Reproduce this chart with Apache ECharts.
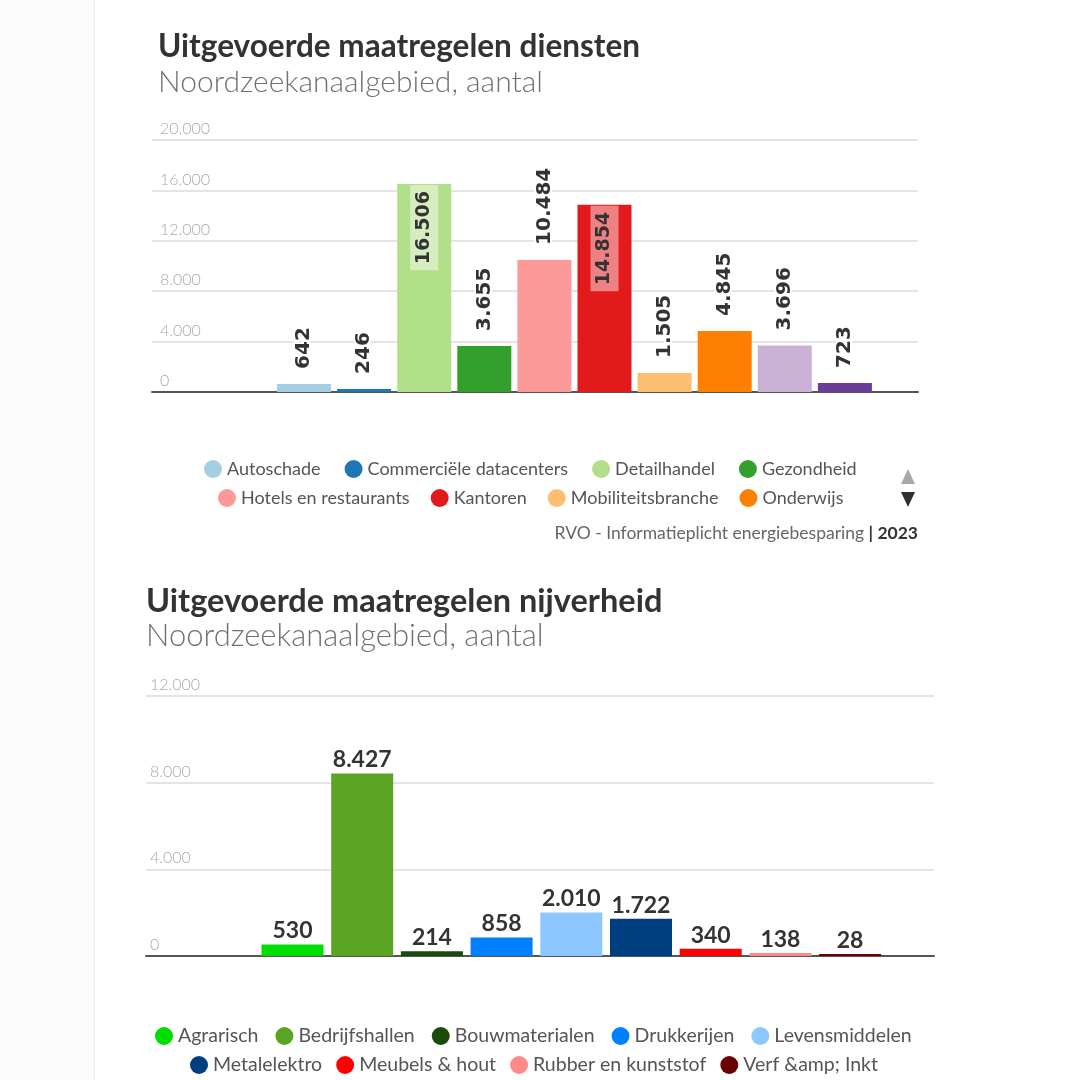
<!DOCTYPE html>
<html>
<head>
<meta charset="utf-8">
<script src="https://cdn.jsdelivr.net/npm/echarts@6/dist/echarts.min.js"></script>
<style>
html,body{margin:0;padding:0;background:#fff;}
#chart{width:1080px;height:1080px;}
</style>
</head>
<body>
<div id="chart"></div>
<script>
// ---- Data: chart 1 (diensten) ----
const dienstenCategories = ['Autoschade', 'Commerciële datacenters', 'Detailhandel', 'Gezondheid', 'Hotels en restaurants', 'Kantoren', 'Mobiliteitsbranche', 'Onderwijs', 'Sport en recreatie', 'Zorg'];
const dienstenValues = [642, 246, 16506, 3655, 10484, 14854, 1505, 4845, 3696, 723];
const dienstenColors = ['#a6cee3', '#1f78b4', '#b2df8a', '#33a02c', '#fb9a99', '#e31a1c', '#fdbf6f', '#ff7f00', '#cab2d6', '#6a3d9a'];
const dienstenLegendRow1 = ['Autoschade', 'Commerciële datacenters', 'Detailhandel', 'Gezondheid'];
const dienstenLegendRow2 = ['Hotels en restaurants', 'Kantoren', 'Mobiliteitsbranche', 'Onderwijs'];
const dienstenTicks = [0, 4000, 8000, 12000, 16000, 20000];

// ---- Data: chart 2 (nijverheid) ----
const nijverheidCategories = ['Agrarisch', 'Bedrijfshallen', 'Bouwmaterialen', 'Drukkerijen', 'Levensmiddelen', 'Metalelektro', 'Meubels & hout', 'Rubber en kunststof', 'Verf &amp; Inkt'];
const nijverheidValues = [530, 8427, 214, 858, 2010, 1722, 340, 138, 28];
const nijverheidColors = ['#00dd00', '#5aa524', '#1b4a0d', '#0080ff', '#8ec7ff', '#003f7f', '#ff0000', '#ff8a8a', '#6b0000'];
const nijverheidLegendRow1 = ['Agrarisch', 'Bedrijfshallen', 'Bouwmaterialen', 'Drukkerijen', 'Levensmiddelen'];
const nijverheidLegendRow2 = ['Metalelektro', 'Meubels & hout', 'Rubber en kunststof', 'Verf &amp; Inkt'];
const nijverheidTicks = [0, 4000, 8000, 12000];

const source = 'RVO - Informatieplicht energiebesparing';
const sourceYear = '2023';

// ---- helpers ----
function nl(v) { return String(v).replace(/\B(?=(\d{3})+(?!\d))/g, '.'); }
const FONT = 'Lato, "Source Sans Pro", sans-serif';

const chart = echarts.init(document.getElementById('chart'), null, {renderer: 'canvas'});

function yAxisFor(gridIndex, ticks, margin) {
  return {
    type: 'value', gridIndex: gridIndex,
    min: ticks[0], max: ticks[ticks.length - 1], interval: ticks[1] - ticks[0],
    axisLine: {show: false}, axisTick: {show: false},
    splitLine: {show: true, lineStyle: {color: '#e4e4e4', width: 2}},
    axisLabel: {
      inside: true, margin: margin, verticalAlign: 'bottom', padding: [0, 0, 3, 0],
      color: '#a9a9a9', fontSize: 16, fontFamily: FONT, fontWeight: 300,
      formatter: v => nl(v)
    }
  };
}

function xAxisFor(gridIndex, min, max) {
  return {
    type: 'value', gridIndex: gridIndex, min: min, max: max,
    axisLine: {show: true, onZero: false, lineStyle: {color: '#555', width: 2}},
    axisTick: {show: false}, axisLabel: {show: false}, splitLine: {show: false}
  };
}

const series = [];
const yMax1 = dienstenTicks[dienstenTicks.length - 1];
dienstenCategories.forEach((name, i) => {
  const v = dienstenValues[i];
  const inside = v > yMax1 * 0.7;
  series.push({
    type: 'bar', name: name, xAxisIndex: 0, yAxisIndex: 0,
    barWidth: 54, barGap: '-100%',
    itemStyle: {color: dienstenColors[i]},
    label: inside ? {
      show: true, position: 'insideTop', rotate: 90, align: 'right', verticalAlign: 'middle',
      distance: 1, color: '#333', fontFamily: '"DejaVu Sans", sans-serif', fontWeight: 'bold', fontSize: 19,
      backgroundColor: 'rgba(255,255,255,0.45)', padding: [5, 6, 4, 6],
      formatter: p => nl(p.value[1])
    } : {
      show: true, position: 'top', rotate: 90, align: 'left', verticalAlign: 'middle',
      distance: 15, color: '#333', fontFamily: '"DejaVu Sans", sans-serif', fontWeight: 'bold', fontSize: 20,
      textBorderColor: '#fff', textBorderWidth: 4,
      formatter: p => nl(p.value[1])
    },
    data: [[i, v]]
  });
});
nijverheidCategories.forEach((name, i) => {
  series.push({
    type: 'bar', name: name, xAxisIndex: 1, yAxisIndex: 1,
    barWidth: 62, barGap: '-100%', barMinHeight: 2,
    itemStyle: {color: nijverheidColors[i]},
    label: {
      show: true, position: 'top', distance: 2, color: '#333',
      fontFamily: FONT, fontWeight: 'bold', fontSize: 23,
      formatter: p => nl(p.value[1])
    },
    data: [[i, nijverheidValues[i]]]
  });
});

function legendRow(data, left, top, gap, fs) {
  return {
    data: data, left: left, top: top, orient: 'horizontal', width: 950,
    icon: 'circle', itemWidth: 18, itemHeight: 18, itemGap: gap,
    textStyle: {color: '#555', fontSize: fs, fontFamily: FONT},
    selectedMode: false
  };
}

const option = {
  backgroundColor: '#ffffff',
  animation: false,
  title: [
    {text: 'Uitgevoerde maatregelen diensten', left: 158, top: 31, padding: 0,
     textStyle: {fontFamily: FONT, fontWeight: 'bold', fontSize: 31.5, color: '#333'}},
    {text: 'Noordzeekanaalgebied, aantal', left: 158, top: 67, padding: 0,
     textStyle: {fontFamily: FONT, fontWeight: 300, fontSize: 30, color: '#707070'}},
    {text: 'Uitgevoerde maatregelen nijverheid', left: 146, top: 585, padding: 0,
     textStyle: {fontFamily: FONT, fontWeight: 'bold', fontSize: 32.5, color: '#333'}},
    {text: 'Noordzeekanaalgebied, aantal', left: 146, top: 620, padding: 0,
     textStyle: {fontFamily: FONT, fontWeight: 300, fontSize: 31, color: '#707070'}},
    {text: '{a|' + source + ' }{b|| ' + sourceYear + '}', right: 162, top: 524, padding: 0,
     textStyle: {fontWeight: 'normal', rich: {
       a: {fontFamily: FONT, fontSize: 17.5, color: '#666', fontWeight: 'normal'},
       b: {fontFamily: FONT, fontSize: 17.5, color: '#333', fontWeight: 'bold'}
     }}}
  ],
  grid: [
    {left: 152, width: 766, top: 140, height: 252},
    {left: 146, width: 788, top: 696, height: 260}
  ],
  xAxis: [
    xAxisFor(0, (152 - 304) / 60.1, (918 - 304) / 60.1),
    xAxisFor(1, (146 - 292.5) / 69.7, (934 - 292.5) / 69.7)
  ],
  yAxis: [
    yAxisFor(0, dienstenTicks, 8),
    yAxisFor(1, nijverheidTicks, 4)
  ],
  legend: [
    legendRow(dienstenLegendRow1, 199, 455, 24, 18),
    legendRow(dienstenLegendRow2, 213, 484, 21, 18),
    legendRow(nijverheidLegendRow1, 150, 1021, 17, 19.5),
    legendRow(nijverheidLegendRow2, 185, 1050, 14, 19.5)
  ],
  graphic: [
    {type: 'rect', z: -10, silent: true, shape: {x: 0, y: 0, width: 94, height: 1080}, style: {fill: '#fcfcfc'}},
    {type: 'line', z: -10, silent: true, shape: {x1: 94.5, y1: 0, x2: 94.5, y2: 1080}, style: {stroke: '#efefef', lineWidth: 1}},
    {type: 'polygon', silent: true, shape: {points: [[901, 484], [915, 484], [908, 469]]}, style: {fill: '#a8a8a8'}},
    {type: 'polygon', silent: true, shape: {points: [[901, 492], [915, 492], [908, 507]]}, style: {fill: '#2f2f2f'}}
  ],
  series: series
};
chart.setOption(option);
</script>
</body>
</html>
